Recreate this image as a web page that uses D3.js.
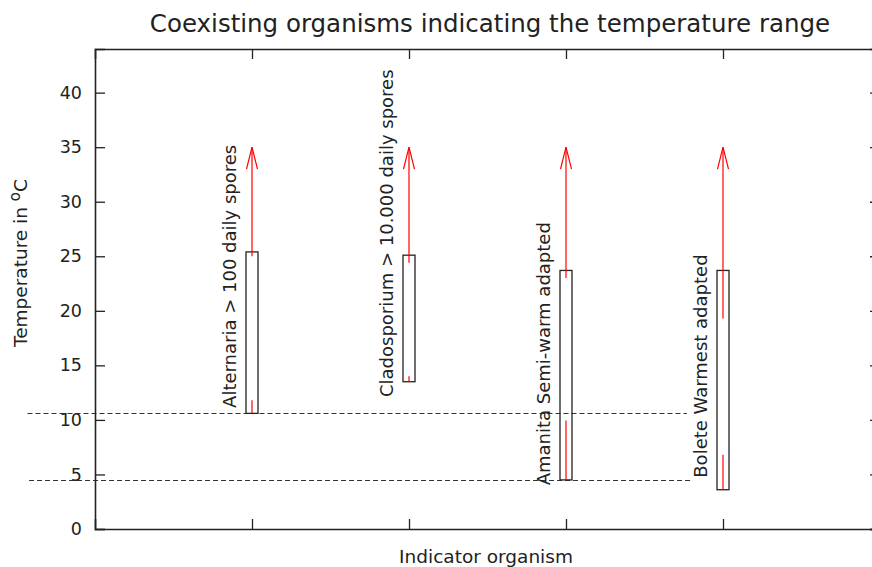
<!DOCTYPE html>
<html>
<head>
<meta charset="utf-8">
<script src="https://cdn.jsdelivr.net/npm/d3@7/dist/d3.min.js"></script>
<style>
  html, body { margin: 0; padding: 0; background: #fff; }
  svg { display: block; }
  text { font-family: "DejaVu Sans", sans-serif; fill: #222; }
</style>
</head>
<body>
<script>
// ---- data ----
const categories = [
  "Alternaria > 100 daily spores",
  "Cladosporium > 10.000 daily spores",
  "Amanita Semi-warm adapted",
  "Bolete Warmest adapted"
];
const boxLow  = [10.6, 13.5, 4.5, 3.6];
const boxHigh = [25.4, 25.1, 23.7, 23.7];
const arrowFrom = [25.0, 24.4, 23.0, 23.7];
const arrowTo   = [35, 35, 35, 35];
const redSegments = [
  [[10.6, 11.8]],
  [[13.5, 14.0]],
  [[4.5, 9.95]],
  [[3.6, 6.8], [19.3, 23.7]]
];
const labelStart = [11.1, 12.1, 4.0, 4.7];
const refLevels = [10.6, 4.5];
const refFrom = [-0.43, -0.42];
const refTo = [3.77, 3.8];
const yTicks = [0, 5, 10, 15, 20, 25, 30, 35, 40];
const xPositions = [1, 2, 3, 4];

// ---- layout ----
const W = 872, H = 567;
const svg = d3.select("body").append("svg").attr("width", W).attr("height", H);
const x = d3.scaleLinear().domain([0, 5]).range([95, 880]);
const y = d3.scaleLinear().domain([0, 44]).range([529, 49]);
const ink = "#222";

// reference dashed lines
svg.selectAll("line.ref").data(refLevels).enter().append("line")
  .attr("x1", (d, i) => x(refFrom[i])).attr("x2", (d, i) => x(refTo[i]))
  .attr("y1", d => Math.round(y(d)) + 0.5).attr("y2", d => Math.round(y(d)) + 0.5)
  .attr("stroke", "#333").attr("stroke-width", 1).attr("stroke-dasharray", "5,3");

// axes (border)
const tickLen = 10;
const gL = svg.append("g").attr("transform", `translate(${x(0)},0)`)
  .call(d3.axisLeft(y).tickValues(yTicks).tickSize(-tickLen).tickPadding(13).tickFormat(d3.format("d")));
const gR = svg.append("g").attr("transform", `translate(${x(5)},0)`)
  .call(d3.axisRight(y).tickValues(yTicks).tickSize(-tickLen).tickFormat(""));
const gB = svg.append("g").attr("transform", `translate(0,${y(0)})`)
  .call(d3.axisBottom(x).tickValues(xPositions).tickSize(-tickLen).tickFormat(""));
const gT = svg.append("g").attr("transform", `translate(0,${y(44)})`)
  .call(d3.axisTop(x).tickValues(xPositions).tickSize(-tickLen).tickFormat(""));
[gL, gR, gB, gT].forEach(g => {
  g.select(".domain").attr("stroke", ink).attr("stroke-width", 1.6);
  g.selectAll(".tick line").attr("stroke", ink).attr("stroke-width", 1.3);
  g.selectAll(".tick text").attr("font-size", 17.5).attr("fill", ink)
    .style("font-family", "'DejaVu Sans', sans-serif");
});

// boxes
svg.selectAll("rect.box").data(categories).enter().append("rect")
  .attr("x", (d, i) => x(xPositions[i]) - 6)
  .attr("width", 12)
  .attr("y", (d, i) => y(boxHigh[i]))
  .attr("height", (d, i) => y(boxLow[i]) - y(boxHigh[i]))
  .attr("fill", "none").attr("stroke", ink).attr("stroke-width", 1.3);

// red segments inside boxes
categories.forEach((c, i) => {
  redSegments[i].forEach(s => {
    svg.append("line")
      .attr("x1", x(xPositions[i])).attr("x2", x(xPositions[i]))
      .attr("y1", y(s[0])).attr("y2", y(s[1]))
      .attr("stroke", "red").attr("stroke-width", 1.2);
  });
});

// red arrows
categories.forEach((c, i) => {
  const cx = x(xPositions[i]);
  svg.append("line")
    .attr("x1", cx).attr("x2", cx)
    .attr("y1", y(arrowFrom[i])).attr("y2", y(arrowTo[i]))
    .attr("stroke", "red").attr("stroke-width", 1.2);
  const ty = y(arrowTo[i]);
  svg.append("path")
    .attr("d", `M${cx - 5.5},${ty + 22} L${cx},${ty} L${cx + 5.5},${ty + 22}`)
    .attr("fill", "none").attr("stroke", "red").attr("stroke-width", 1.2);
});

// rotated labels
svg.selectAll("text.lab").data(categories).enter().append("text")
  .attr("transform", (d, i) => `translate(${x(xPositions[i]) - 16},${y(labelStart[i])}) rotate(-90)`)
  .attr("font-size", 18)
  .attr("text-anchor", "start")
  .text(d => d);

// title
svg.append("text").attr("x", 490).attr("y", 32).attr("text-anchor", "middle")
  .attr("font-size", 24.5).text("Coexisting organisms indicating the temperature range");

// x label
svg.append("text").attr("x", 486).attr("y", 563).attr("text-anchor", "middle")
  .attr("font-size", 18.5).text("Indicator organism");

// y label
const yl = svg.append("text")
  .attr("transform", `translate(27,263) rotate(-90)`)
  .attr("text-anchor", "middle").attr("font-size", 18.5);
yl.append("tspan").text("Temperature in ");
yl.append("tspan").attr("dy", -7).attr("font-size", 15).text("o");
yl.append("tspan").attr("dy", 7).text("C");
</script>
</body>
</html>
